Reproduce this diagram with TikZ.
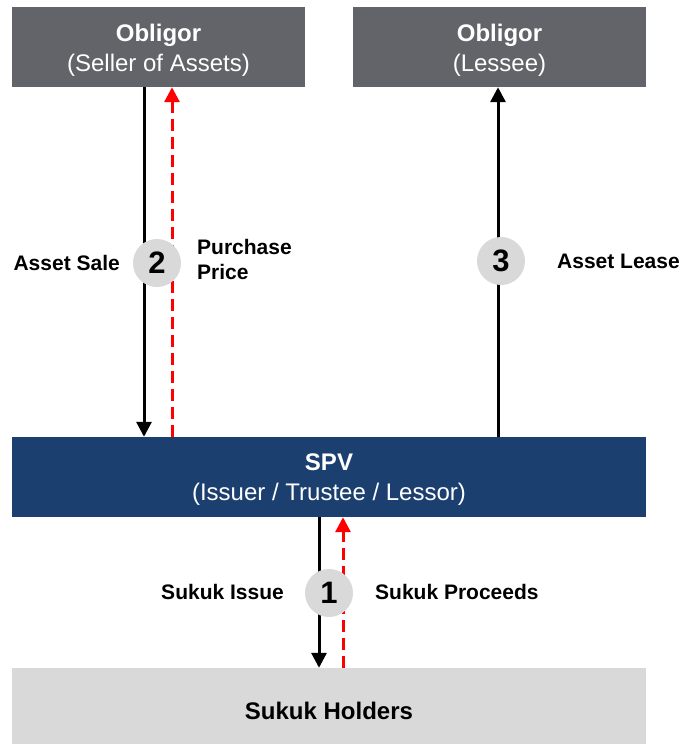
\documentclass[tikz,border=0pt]{standalone}
\usepackage{fontspec}
\setmainfont{Liberation Sans}
\usetikzlibrary{arrows.meta}
\definecolor{obgrey}{HTML}{636469}
\definecolor{spvblue}{HTML}{1B3F6F}
\definecolor{holdgrey}{HTML}{D9D9D9}
\definecolor{numgrey}{HTML}{D9D9D9}
\tikzset{
  box/.style={rectangle, inner sep=0pt, minimum height=80pt},
  boxtext/.style={align=center, inner sep=0pt, font=\fontsize{24}{30}\selectfont},
  flow/.style={line width=3pt, -{Triangle[length=15pt,width=15pt]}},
  blackflow/.style={flow, draw=black},
  redflow/.style={flow, draw=red, dash pattern=on 12pt off 6pt},
  numcirc/.style={circle, fill=numgrey, minimum size=48pt, inner sep=0pt,
    font=\bfseries\fontsize{31}{31}\selectfont},
  lbl/.style={inner sep=0pt, font=\bfseries\fontsize{21}{25}\selectfont},
}
\begin{document}
\begin{tikzpicture}[x=1pt,y=-1pt]
\useasboundingbox (0,0) rectangle (683,744);
% boxes
\node[box, fill=obgrey, minimum width=293pt,
  label={[boxtext, text=white, yshift=-3pt]center:\textbf{Obligor}\\(Seller of Assets)}]
  (oblA) at (158.5,47) {};
\node[box, fill=obgrey, minimum width=293pt,
  label={[boxtext, text=white, yshift=-3pt]center:\textbf{Obligor}\\(Lessee)}]
  (oblB) at (499.5,47) {};
\node[box, fill=spvblue, minimum width=634pt,
  label={[boxtext, text=white, yshift=-3pt]center:\textbf{SPV}\\(Issuer / Trustee / Lessor)}]
  (spv) at (329,477) {};
\node[box, fill=holdgrey, minimum width=634pt, minimum height=78pt,
  label={[boxtext, text=black, yshift=-4pt]center:\textbf{Sukuk Holders}}]
  (hold) at (329,707) {};
% x positions
\coordinate (xa) at (144,0);
\coordinate (xb) at (172,0);
\coordinate (xc) at (498,0);
\coordinate (xd) at (319,0);
\coordinate (xe) at (343,0);
% connectors
\draw[blackflow] (oblA.south -| xa) -- (spv.north -| xa);
\draw[redflow] (spv.north -| xb) -- (oblA.south -| xb);
\draw[blackflow] (spv.north -| xc) -- (oblB.south -| xc);
\draw[blackflow] (spv.south -| xd) -- (hold.north -| xd);
\draw[redflow] (hold.north -| xe) -- (spv.south -| xe);
% number circles
\node[numcirc] (c2) at (157,263) {2};
\node[numcirc] (c3) at (501,261) {3};
\node[numcirc] (c1) at (329,593) {1};
% labels
\node[lbl, anchor=east] (lAS) at (120,263) {Asset Sale};
\node[lbl, anchor=west, align=left] (lPP) at (197,259) {Purchase\\Price};
\node[lbl, anchor=west] (lAL) at (557,261) {Asset Lease};
\node[lbl, anchor=east] (lSI) at (284,592) {Sukuk Issue};
\node[lbl, anchor=west] (lSP) at (375,592) {Sukuk Proceeds};
\end{tikzpicture}
\end{document}
